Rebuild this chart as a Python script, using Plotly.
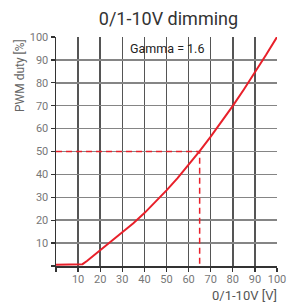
import plotly.graph_objects as go

# data
volt = [0, 12, 14, 16, 20, 25, 30, 35, 40, 45, 50, 55, 60, 65, 70, 75, 80, 85, 90, 95, 100]
duty = [0.5, 0.8, 2.2, 3.8, 7.0, 10.9, 14.6, 18.7, 23.1, 27.9, 33.0, 38.4, 44.1, 50.2, 56.5, 63.0, 69.9, 77.1, 84.5, 92.1, 100]
ref_x = [0, 65, 65]
ref_y = [50, 50, 0]
ticks = [0, 10, 20, 30, 40, 50, 60, 70, 80, 90, 100]
tick_text = ["", "10", "20", "30", "40", "50", "60", "70", "80", "90", "100"]

RED = "#e8202a"
FONT = "Roboto"

fig = go.Figure()
fig.add_trace(go.Scatter(x=ref_x, y=ref_y, mode="lines",
                         line=dict(color=RED, width=1.5, dash="6px,4px"),
                         hoverinfo="skip", showlegend=False, cliponaxis=False))
fig.add_trace(go.Scatter(x=volt, y=duty, mode="lines",
                         line=dict(color=RED, width=2),
                         showlegend=False, cliponaxis=False))

axis_common = dict(
    range=[0, 100], tickvals=ticks, ticktext=tick_text,
    showgrid=True, gridwidth=1.5,
    showline=True, linecolor="#333333", linewidth=1.5,
    ticks="outside", ticklen=4, tickwidth=1.3, tickcolor="#333333",
    tickfont=dict(family=FONT, size=11, color="#777777"),
    zeroline=False, fixedrange=True, ticklabeloverflow="allow",
)
fig.update_xaxes(gridcolor="#555555", ticklabelstandoff=-2, **axis_common)
fig.update_yaxes(gridcolor="#858585", **axis_common)

fig.update_layout(
    width=293, height=304,
    margin=dict(l=56, r=7, t=37, b=38),
    paper_bgcolor="white", plot_bgcolor="white",
    font=dict(family=FONT),
    title=dict(text="0/1-10V dimming", x=0.575, xanchor="center", y=0.94, yanchor="middle",
               font=dict(family=FONT, size=18, color="#333333")),
    annotations=[
        dict(text="Gamma = 1.6", x=0.5, y=95, xref="paper", yref="y", showarrow=False,
             font=dict(family=FONT, size=12.5, color="#222222"), xanchor="center", yanchor="middle"),
        dict(text="PWM duty [%]", x=-0.165, y=1.0, xref="paper", yref="paper", showarrow=False,
             textangle=-90, xanchor="center", yanchor="top",
             font=dict(family=FONT, size=12, color="#666666")),
        dict(text="0/1-10V [V]", x=1.005, y=-0.166, xref="paper", yref="paper", showarrow=False,
             xanchor="right", yanchor="bottom", borderpad=0,
             font=dict(family=FONT, size=13, color="#555555")),
    ],
)

fig.write_html("out.html", config={"displayModeBar": False, "staticPlot": True})
with open("out.html", "r", encoding="utf-8") as f:
    html = f.read()
html = html.replace("<head>", "<head><style>html,body{margin:0;padding:0;overflow:hidden;}</style>", 1)
with open("out.html", "w", encoding="utf-8") as f:
    f.write(html)
